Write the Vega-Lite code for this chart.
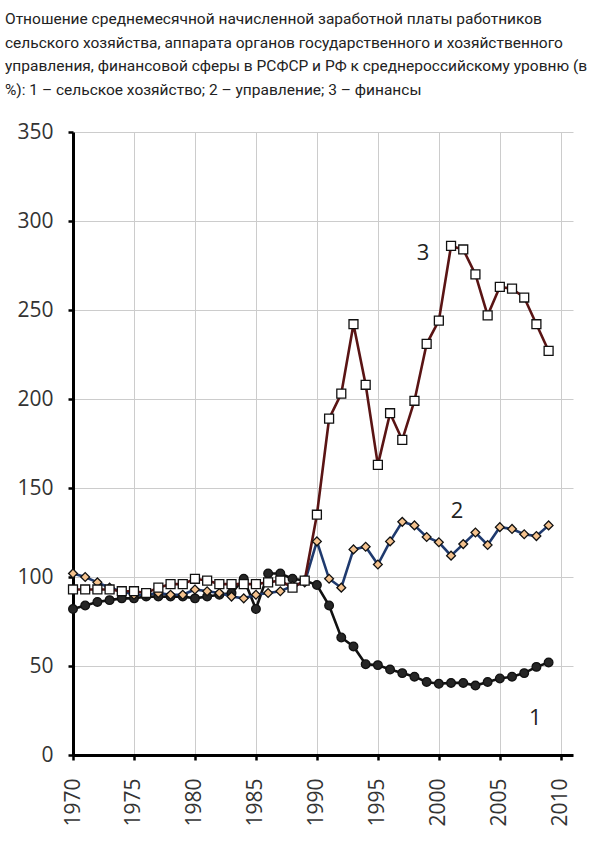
{
  "$schema": "https://vega.github.io/schema/vega-lite/v6.json",
  "width": 500,
  "height": 623,
  "autosize": {"type": "none"},
  "padding": {"left": 73, "top": 132, "right": 27, "bottom": 90},
  "background": "white",
  "title": {
    "text": [
      "Отношение среднемесячной начисленной заработной платы работников",
      "сельского хозяйства, аппарата органов государственного и хозяйственного",
      "управления, финансовой сферы в РСФСР и РФ к среднероссийскому уровню (в",
      "%): 1 – сельское хозяйство; 2 – управление; 3 – финансы"
    ],
    "anchor": "start",
    "frame": "group",
    "dx": -68,
    "offset": 23,
    "font": "Roboto",
    "fontSize": 15.5,
    "fontWeight": "normal",
    "color": "#222",
    "lineHeight": 23.5
  },
  "config": {
    "view": {"stroke": null},
    "axis": {
      "grid": true,
      "gridColor": "#cccccc",
      "gridWidth": 1,
      "domainColor": "#000000",
      "domainWidth": 3,
      "tickColor": "#000000",
      "tickWidth": 2.5,
      "tickSize": 5,
      "labelFont": "Open Sans",
      "labelColor": "#333333",
      "title": null
    }
  },
  "data": {
    "values": [
      {"year": 1970, "s": "1", "v": 82}, {"year": 1971, "s": "1", "v": 84}, {"year": 1972, "s": "1", "v": 86}, {"year": 1973, "s": "1", "v": 87}, {"year": 1974, "s": "1", "v": 88},
      {"year": 1975, "s": "1", "v": 88}, {"year": 1976, "s": "1", "v": 89}, {"year": 1977, "s": "1", "v": 89}, {"year": 1978, "s": "1", "v": 89}, {"year": 1979, "s": "1", "v": 89},
      {"year": 1980, "s": "1", "v": 88}, {"year": 1981, "s": "1", "v": 89}, {"year": 1982, "s": "1", "v": 90}, {"year": 1983, "s": "1", "v": 91}, {"year": 1984, "s": "1", "v": 99},
      {"year": 1985, "s": "1", "v": 82}, {"year": 1986, "s": "1", "v": 102}, {"year": 1987, "s": "1", "v": 102}, {"year": 1988, "s": "1", "v": 99}, {"year": 1989, "s": "1", "v": 98},
      {"year": 1990, "s": "1", "v": 95.5}, {"year": 1991, "s": "1", "v": 84}, {"year": 1992, "s": "1", "v": 66}, {"year": 1993, "s": "1", "v": 61}, {"year": 1994, "s": "1", "v": 51},
      {"year": 1995, "s": "1", "v": 50.5}, {"year": 1996, "s": "1", "v": 48}, {"year": 1997, "s": "1", "v": 46}, {"year": 1998, "s": "1", "v": 44}, {"year": 1999, "s": "1", "v": 41},
      {"year": 2000, "s": "1", "v": 40}, {"year": 2001, "s": "1", "v": 40.5}, {"year": 2002, "s": "1", "v": 40.5}, {"year": 2003, "s": "1", "v": 39}, {"year": 2004, "s": "1", "v": 41},
      {"year": 2005, "s": "1", "v": 43}, {"year": 2006, "s": "1", "v": 44}, {"year": 2007, "s": "1", "v": 46}, {"year": 2008, "s": "1", "v": 49.5}, {"year": 2009, "s": "1", "v": 52},
      {"year": 1970, "s": "2", "v": 102}, {"year": 1971, "s": "2", "v": 100}, {"year": 1972, "s": "2", "v": 97}, {"year": 1973, "s": "2", "v": 94}, {"year": 1974, "s": "2", "v": 92},
      {"year": 1975, "s": "2", "v": 90}, {"year": 1976, "s": "2", "v": 90}, {"year": 1977, "s": "2", "v": 91}, {"year": 1978, "s": "2", "v": 90}, {"year": 1979, "s": "2", "v": 90},
      {"year": 1980, "s": "2", "v": 93}, {"year": 1981, "s": "2", "v": 92}, {"year": 1982, "s": "2", "v": 91}, {"year": 1983, "s": "2", "v": 89}, {"year": 1984, "s": "2", "v": 88},
      {"year": 1985, "s": "2", "v": 90}, {"year": 1986, "s": "2", "v": 91}, {"year": 1987, "s": "2", "v": 92}, {"year": 1988, "s": "2", "v": 95}, {"year": 1989, "s": "2", "v": 97},
      {"year": 1990, "s": "2", "v": 120}, {"year": 1991, "s": "2", "v": 99}, {"year": 1992, "s": "2", "v": 94}, {"year": 1993, "s": "2", "v": 115.5}, {"year": 1994, "s": "2", "v": 117},
      {"year": 1995, "s": "2", "v": 107}, {"year": 1996, "s": "2", "v": 120}, {"year": 1997, "s": "2", "v": 131}, {"year": 1998, "s": "2", "v": 129}, {"year": 1999, "s": "2", "v": 122.5},
      {"year": 2000, "s": "2", "v": 119.5}, {"year": 2001, "s": "2", "v": 112}, {"year": 2002, "s": "2", "v": 118.5}, {"year": 2003, "s": "2", "v": 125}, {"year": 2004, "s": "2", "v": 118},
      {"year": 2005, "s": "2", "v": 128}, {"year": 2006, "s": "2", "v": 127}, {"year": 2007, "s": "2", "v": 124}, {"year": 2008, "s": "2", "v": 123}, {"year": 2009, "s": "2", "v": 129},
      {"year": 1970, "s": "3", "v": 93}, {"year": 1971, "s": "3", "v": 93}, {"year": 1972, "s": "3", "v": 93}, {"year": 1973, "s": "3", "v": 93}, {"year": 1974, "s": "3", "v": 92},
      {"year": 1975, "s": "3", "v": 92}, {"year": 1976, "s": "3", "v": 91}, {"year": 1977, "s": "3", "v": 94}, {"year": 1978, "s": "3", "v": 96}, {"year": 1979, "s": "3", "v": 96},
      {"year": 1980, "s": "3", "v": 99}, {"year": 1981, "s": "3", "v": 98}, {"year": 1982, "s": "3", "v": 96}, {"year": 1983, "s": "3", "v": 96}, {"year": 1984, "s": "3", "v": 96},
      {"year": 1985, "s": "3", "v": 96}, {"year": 1986, "s": "3", "v": 97}, {"year": 1987, "s": "3", "v": 98}, {"year": 1988, "s": "3", "v": 94}, {"year": 1989, "s": "3", "v": 98},
      {"year": 1990, "s": "3", "v": 135}, {"year": 1991, "s": "3", "v": 189}, {"year": 1992, "s": "3", "v": 203}, {"year": 1993, "s": "3", "v": 242}, {"year": 1994, "s": "3", "v": 208},
      {"year": 1995, "s": "3", "v": 163}, {"year": 1996, "s": "3", "v": 192}, {"year": 1997, "s": "3", "v": 177}, {"year": 1998, "s": "3", "v": 199}, {"year": 1999, "s": "3", "v": 231},
      {"year": 2000, "s": "3", "v": 244}, {"year": 2001, "s": "3", "v": 286}, {"year": 2002, "s": "3", "v": 284}, {"year": 2003, "s": "3", "v": 270}, {"year": 2004, "s": "3", "v": 247},
      {"year": 2005, "s": "3", "v": 263}, {"year": 2006, "s": "3", "v": 262}, {"year": 2007, "s": "3", "v": 257}, {"year": 2008, "s": "3", "v": 242}, {"year": 2009, "s": "3", "v": 227}
    ]
  },
  "encoding": {
    "x": {
      "field": "year",
      "type": "quantitative",
      "scale": {"domain": [1970, 2011], "nice": false, "zero": false},
      "axis": {
        "values": [1970, 1975, 1980, 1985, 1990, 1995, 2000, 2005, 2010],
        "format": "d",
        "labelAngle": -90,
        "labelFontSize": 21,
        "labelPadding": 18
      }
    },
    "y": {
      "field": "v",
      "type": "quantitative",
      "scale": {"domain": [0, 350], "nice": false},
      "axis": {
        "values": [0, 50, 100, 150, 200, 250, 300, 350],
        "labelFontSize": 21,
        "labelPadding": 15
      }
    }
  },
  "layer": [
    {
      "mark": {"type": "line", "strokeWidth": 2.6},
      "encoding": {
        "color": {
          "field": "s",
          "type": "nominal",
          "scale": {"domain": ["1", "2", "3"], "range": ["#111111", "#1f3a6e", "#5a1414"]},
          "legend": null
        }
      }
    },
    {
      "mark": {"type": "point", "filled": true, "stroke": "#111111", "strokeWidth": 1.3, "opacity": 1},
      "encoding": {
        "shape": {
          "field": "s",
          "type": "nominal",
          "scale": {"domain": ["1", "2", "3"], "range": ["circle", "diamond", "square"]},
          "legend": null
        },
        "fill": {
          "field": "s",
          "type": "nominal",
          "scale": {"domain": ["1", "2", "3"], "range": ["#262626", "#f4c28e", "#ffffff"]},
          "legend": null
        },
        "size": {
          "field": "s",
          "type": "nominal",
          "scale": {"domain": ["1", "2", "3"], "range": [75, 80, 100]},
          "legend": null
        }
      }
    },
    {
      "data": {
        "values": [
          {"year": 2007.9, "v": 21, "label": "1"},
          {"year": 2001.5, "v": 137, "label": "2"},
          {"year": 1998.7, "v": 282, "label": "3"}
        ]
      },
      "mark": {"type": "text", "font": "Open Sans", "fontSize": 22, "color": "#222222"},
      "encoding": {
        "x": {"field": "year", "type": "quantitative"},
        "y": {"field": "v", "type": "quantitative"},
        "text": {"field": "label"}
      }
    }
  ]
}
